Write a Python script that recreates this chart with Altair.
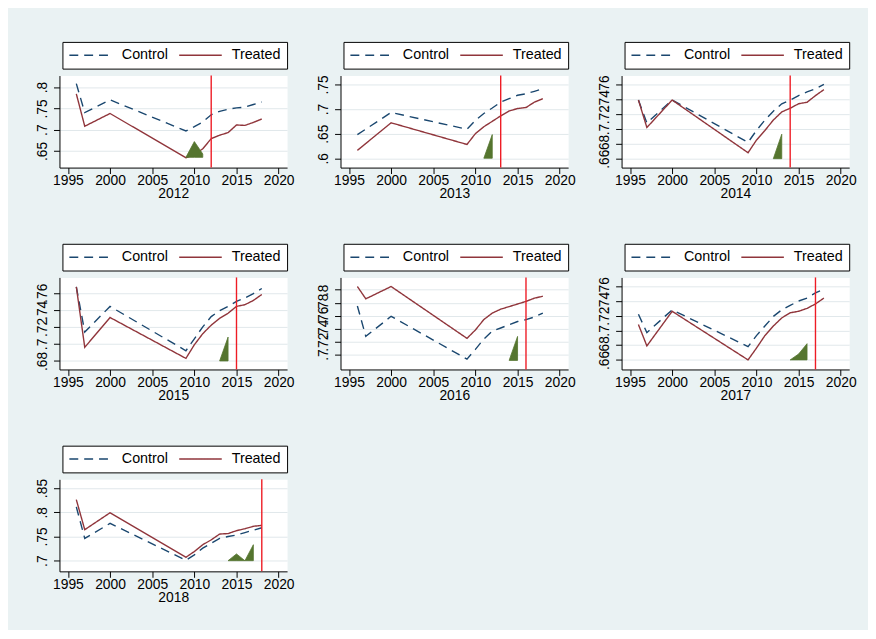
import altair as alt
import pandas as pd

YEARS = [1996, 1997, 2000, 2009, 2010, 2011, 2012, 2013, 2014, 2015, 2016, 2017, 2018]
SERIES = ["Control", "Treated"]
X_TICKS = [1995, 2000, 2005, 2010, 2015, 2020]
PANELS = [2012, 2013, 2014, 2015, 2016, 2017, 2018]

CONTROL_2012 = [0.808, 0.740, 0.770, 0.697, 0.707, 0.718, 0.735, 0.743, 0.748, 0.751, 0.753, 0.759, 0.765]
TREATED_2012 = [0.784, 0.708, 0.738, 0.634, 0.642, 0.655, 0.679, 0.687, 0.693, 0.711, 0.710, 0.717, 0.725]
CONTROL_2013 = [0.648, None, 0.693, 0.659, 0.677, 0.691, 0.702, 0.714, 0.721, 0.728, 0.731, 0.736, 0.741]
TREATED_2013 = [0.616, None, 0.672, 0.628, 0.650, 0.664, 0.675, 0.686, 0.696, 0.701, 0.703, 0.714, 0.721]
CONTROL_2014 = [0.739, 0.708, 0.739, 0.682, 0.698, 0.712, 0.724, 0.734, 0.739, 0.745, 0.750, 0.754, 0.760]
TREATED_2014 = [0.739, 0.702, 0.739, 0.668, 0.685, 0.698, 0.712, 0.723, 0.728, 0.734, 0.736, 0.745, 0.753]
CONTROL_2015 = [0.767, 0.714, 0.744, 0.692, 0.706, 0.720, 0.732, 0.739, 0.744, 0.750, 0.754, 0.759, 0.765]
TREATED_2015 = [0.767, 0.696, 0.731, 0.683, 0.699, 0.712, 0.722, 0.730, 0.736, 0.744, 0.746, 0.751, 0.758]
CONTROL_2016 = [0.775, 0.728, 0.759, 0.693, 0.708, 0.724, 0.736, 0.741, 0.746, 0.751, 0.754, 0.758, 0.764]
TREATED_2016 = [0.805, 0.786, 0.805, 0.725, 0.738, 0.754, 0.764, 0.770, 0.774, 0.778, 0.782, 0.787, 0.790]
CONTROL_2017 = [0.722, 0.697, 0.728, 0.678, 0.693, 0.706, 0.719, 0.728, 0.734, 0.740, 0.744, 0.751, 0.756]
TREATED_2017 = [0.708, 0.679, 0.726, 0.660, 0.676, 0.693, 0.706, 0.717, 0.724, 0.726, 0.730, 0.736, 0.744]
CONTROL_2018 = [0.811, 0.746, 0.777, 0.701, 0.712, 0.726, 0.736, 0.746, 0.750, 0.753, 0.758, 0.763, 0.768]
TREATED_2018 = [0.826, 0.764, 0.799, 0.707, 0.719, 0.733, 0.743, 0.755, 0.756, 0.762, 0.766, 0.771, 0.773]

YTICKS_2012 = [0.65, 0.7, 0.75, 0.8]
YTICKS_2013 = [0.6, 0.65, 0.7, 0.75]
YTICKS_2014 = [0.66, 0.68, 0.7, 0.72, 0.74, 0.76]
YTICKS_2015 = [0.68, 0.7, 0.72, 0.74, 0.76]
YTICKS_2016 = [0.7, 0.72, 0.74, 0.76, 0.78, 0.8]
YTICKS_2017 = [0.66, 0.68, 0.7, 0.72, 0.74, 0.76]
YTICKS_2018 = [0.7, 0.75, 0.8, 0.85]

YRANGE_2012 = [0.611, 0.827]
YRANGE_2013 = [0.581, 0.768]
YRANGE_2014 = [0.648, 0.772]
YRANGE_2015 = [0.670, 0.778]
YRANGE_2016 = [0.677, 0.819]
YRANGE_2017 = [0.647, 0.772]
YRANGE_2018 = [0.678, 0.868]

AREA_X_2012 = [2009, 2010, 2011]
AREA_Y_2012 = [0.635, 0.672, 0.643]
AREA_X_2013 = [2011, 2012]
AREA_Y_2013 = [0.600, 0.648]
AREA_X_2014 = [2012, 2013]
AREA_Y_2014 = [0.660, 0.693]
AREA_X_2015 = [2013, 2014]
AREA_Y_2015 = [0.680, 0.708]
AREA_X_2016 = [2014, 2015]
AREA_Y_2016 = [0.691, 0.728]
AREA_X_2017 = [2014, 2015, 2016]
AREA_Y_2017 = [0.660, 0.668, 0.682]
AREA_X_2018 = [2014, 2015, 2016, 2017]
AREA_Y_2018 = [0.700, 0.714, 0.700, 0.733]
AREA_BASE = [0.635, 0.600, 0.660, 0.680, 0.691, 0.660, 0.700]

CONTROLS = [CONTROL_2012, CONTROL_2013, CONTROL_2014, CONTROL_2015, CONTROL_2016, CONTROL_2017, CONTROL_2018]
TREATEDS = [TREATED_2012, TREATED_2013, TREATED_2014, TREATED_2015, TREATED_2016, TREATED_2017, TREATED_2018]
YTICKS = [YTICKS_2012, YTICKS_2013, YTICKS_2014, YTICKS_2015, YTICKS_2016, YTICKS_2017, YTICKS_2018]
YRANGES = [YRANGE_2012, YRANGE_2013, YRANGE_2014, YRANGE_2015, YRANGE_2016, YRANGE_2017, YRANGE_2018]
AREA_XS = [AREA_X_2012, AREA_X_2013, AREA_X_2014, AREA_X_2015, AREA_X_2016, AREA_X_2017, AREA_X_2018]
AREA_YS = [AREA_Y_2012, AREA_Y_2013, AREA_Y_2014, AREA_Y_2015, AREA_Y_2016, AREA_Y_2017, AREA_Y_2018]

FONT = "Liberation Sans"
NAVY = "#1a476f"
MAROON = "#90353b"
GREEN = "#55752f"
RED = "#ee1c25"


def panel(i):
    year = PANELS[i]
    rows = []
    for s, vals in (("Control", CONTROLS[i]), ("Treated", TREATEDS[i])):
        for yr, v in zip(YEARS, vals):
            if v is not None:
                rows.append({"year": yr, "value": v, "series": s})
    df = pd.DataFrame(rows)
    area_df = pd.DataFrame({"year": AREA_XS[i], "value": AREA_YS[i],
                            "base": [AREA_BASE[i]] * len(AREA_XS[i])})
    rule_df = pd.DataFrame({"treat": [year]})

    xscale = alt.Scale(domain=[1994, 2021], nice=False, zero=False)
    yscale = alt.Scale(domain=YRANGES[i], nice=False, zero=False)
    xaxis = alt.Axis(values=X_TICKS, format="d", grid=False, labelFlush=False)
    yaxis = alt.Axis(values=YTICKS[i], grid=True,
                     labelExpr="substring(format(datum.value, '.2~f'), 1)",
                     labelAngle=270, labelAlign="center", labelBaseline="alphabetic",
                     labelOverlap=False, labelSeparation=-80, labelFlush=False,
                     labelPadding=7, minExtent=30, maxExtent=30)
    legend = alt.Legend(orient="none", legendX=3, legendY=-34, direction="horizontal")

    lines = alt.Chart(df).mark_line(strokeWidth=1.4).encode(
        x=alt.X("year:Q", scale=xscale, title=str(year), axis=xaxis),
        y=alt.Y("value:Q", scale=yscale, title=None, axis=yaxis),
        color=alt.Color("series:N", title=None,
                        scale=alt.Scale(domain=SERIES, range=[NAVY, MAROON]), legend=legend),
        strokeDash=alt.StrokeDash("series:N", title=None,
                                  scale=alt.Scale(domain=SERIES, range=[[9, 6], [1, 0]]), legend=legend),
    )
    area = alt.Chart(area_df).mark_area(color=GREEN, opacity=1, stroke=GREEN, strokeWidth=0.8).encode(
        x=alt.X("year:Q", title=str(year), axis=xaxis),
        y=alt.Y("value:Q", title=None, axis=yaxis),
        y2="base:Q",
    )
    rule = alt.Chart(rule_df).mark_rule(color=RED, strokeWidth=1.4).encode(
        x=alt.X("treat:Q", title=str(year), axis=xaxis),
    )
    return alt.layer(lines, area, rule).properties(width=230, height=93)


charts = [panel(i) for i in range(len(PANELS))]

chart = alt.concat(
    *charts, columns=3, spacing={"row": 111, "column": 54}, bounds="flush"
).resolve_scale(
    color="independent", strokeDash="independent"
).properties(
    padding={"left": 21, "top": 30, "right": 11, "bottom": 22},
    background="#eaf2f3",
).configure(
    font=FONT
).configure_view(
    fill="white", stroke="transparent"
).configure_axis(
    domainColor="black", tickColor="black", labelColor="black", titleColor="black",
    labelFont=FONT, titleFont=FONT, labelFontSize=14, titleFontSize=14,
    titleFontWeight="normal", tickSize=6, gridColor="#e1e8eb", gridWidth=1,
    domainWidth=1, tickWidth=1,
).configure_axisX(
    labelPadding=0, titlePadding=-1,
).configure_axisY(
    labelOverlap=False, labelSeparation=-80,
).configure_legend(
    fillColor="white", strokeColor="black", padding=6, symbolType="stroke",
    symbolSize=1849, symbolStrokeWidth=1.5, labelFontSize=14.5, labelFont=FONT,
    labelColor="black", labelOffset=9, columnPadding=10, clipHeight=15, cornerRadius=0,
)

chart.save("out.html", embed_options={"renderer": "svg", "actions": False})
